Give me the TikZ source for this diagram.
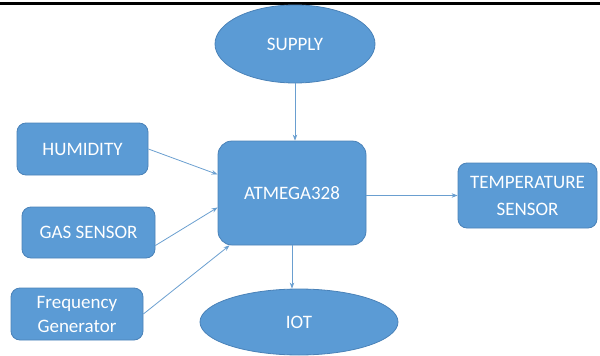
\documentclass[tikz,border=0pt]{standalone}
\usepackage{fontspec}
\setmainfont{Carlito}
\usetikzlibrary{arrows.meta,shapes.geometric}
\definecolor{boxfill}{HTML}{5B9BD5}
\definecolor{boxline}{HTML}{4A82B8}
\definecolor{arrowcol}{HTML}{6A9FD0}
\tikzset{
  blk/.style={draw=boxline, line width=0.8pt, fill=boxfill, rounded corners=9pt, inner sep=0pt,
    text=white, font=\fontsize{19}{24}\selectfont, align=center},
  oval/.style={ellipse, draw=boxline, line width=0.8pt, fill=boxfill, inner sep=0pt,
    text=white, font=\fontsize{19}{24}\selectfont},
  conn/.style={draw=arrowcol, line width=0.8pt, -{Stealth[length=6pt,width=4.5pt]}}
}
\begin{document}
\begin{tikzpicture}[x=1pt,y=-1pt]
\useasboundingbox (0,0) rectangle (600,356);
\coordinate (tl) at (0,3);
\coordinate (tr) at (600,3);
\draw[line width=3pt, black] (tl) -- (tr);
\node[oval, minimum width=160pt, minimum height=78pt] (sup) at (295,44) {SUPPLY};
\node[blk, minimum width=148pt, minimum height=104pt, rounded corners=14pt] (atm) at (292,193) {ATMEGA328};
\node[oval, minimum width=198pt, minimum height=66pt] (iot) at (299,322) {IOT};
\node[blk, minimum width=131pt, minimum height=52pt] (hum) at (82.5,149) {HUMIDITY};
\node[blk, minimum width=133pt, minimum height=51pt] (gas) at (88.5,232.5) {GAS SENSOR};
\node[blk, minimum width=132pt, minimum height=52pt] (frq) at (77,314) {Frequency\\Generator};
\node[blk, minimum width=139pt, minimum height=65pt, font=\fontsize{19}{27}\selectfont] (tmp) at (527.5,195.5) {TEMPERATURE\\SENSOR};
\draw[conn] (sup.south) -- (sup.south |- atm.north);
\draw[conn] (atm.south) -- (atm.south |- iot.north);
\draw[conn] (atm.east |- tmp.west) -- (tmp.west);
\draw[conn] (hum.east) -- (atm.166);
\draw[conn] (gas.-11) -- (atm.191);
\draw[conn] (frq.east) -- (atm.220);
\end{tikzpicture}
\end{document}
